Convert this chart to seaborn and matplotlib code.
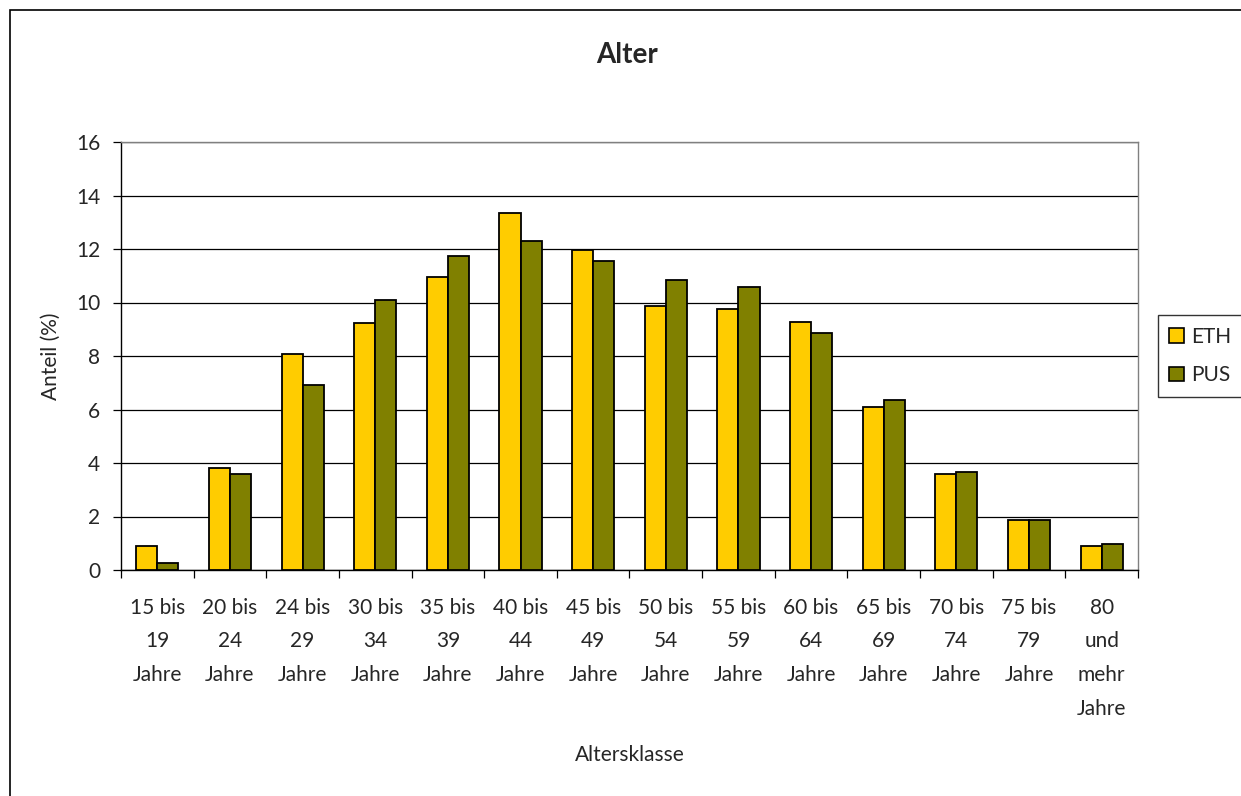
import matplotlib
matplotlib.use("Agg")
import matplotlib.pyplot as plt
import seaborn as sns
import pandas as pd
from matplotlib.patches import Rectangle, Patch

# Age classes and shares (%) for both groups
categories = [
    "15 bis\n19\nJahre", "20 bis\n24\nJahre", "24 bis\n29\nJahre", "30 bis\n34\nJahre",
    "35 bis\n39\nJahre", "40 bis\n44\nJahre", "45 bis\n49\nJahre", "50 bis\n54\nJahre",
    "55 bis\n59\nJahre", "60 bis\n64\nJahre", "65 bis\n69\nJahre", "70 bis\n74\nJahre",
    "75 bis\n79\nJahre", "80\nund\nmehr\nJahre",
]
eth = [0.88, 3.80, 8.07, 9.25, 10.97, 13.33, 11.95, 9.87, 9.74, 9.26, 6.08, 3.59, 1.86, 0.88]
pus = [0.26, 3.59, 6.90, 10.08, 11.74, 12.29, 11.54, 10.84, 10.57, 8.85, 6.36, 3.65, 1.86, 0.97]
series = ["ETH", "PUS"]
colors = {"ETH": "#FFCC00", "PUS": "#808000"}
yticks = [0, 2, 4, 6, 8, 10, 12, 14, 16]

df = pd.DataFrame({
    "Altersklasse": categories * 2,
    "Anteil": eth + pus,
    "Gruppe": ["ETH"] * len(categories) + ["PUS"] * len(categories),
})

sns.set_theme(style="white")
plt.rcParams["font.family"] = ["Lato", "DejaVu Sans"]
FS = 15

W, H = 1241, 796
fig = plt.figure(figsize=(W / 100, H / 100), dpi=100)
ax = fig.add_axes([121 / W, 1 - 570 / H, (1138 - 121) / W, (570 - 142) / H])

# outer chart border
fig.patches.append(Rectangle((10 / W, -0.01), 1.02 - 10 / W, 1 - 10 / H + 0.01,
                             transform=fig.transFigure, fill=False,
                             edgecolor="black", linewidth=1.2, zorder=0))

sns.barplot(data=df, x="Altersklasse", y="Anteil", hue="Gruppe", hue_order=series,
            palette=colors, width=0.58, edgecolor="black", linewidth=1.3,
            saturation=1, legend=False, ax=ax, zorder=3)

ax.set_ylim(0, 16)
ax.set_xlim(-0.5, len(categories) - 0.5)
ax.set_yticks(yticks)
ax.set_yticklabels([str(v) for v in yticks], fontsize=FS)
ax.yaxis.grid(True, color="black", linewidth=0.9)
ax.set_axisbelow(True)

# category boundary ticks on x axis
ax.set_xticks([i - 0.5 for i in range(len(categories) + 1)], minor=False)
ax.set_xticklabels([])
ax.set_xticks(range(len(categories)), minor=True)
ax.set_xticklabels(categories, minor=True, fontsize=FS, linespacing=1.85, va="top")
ax.tick_params(axis="x", which="major", direction="out", length=6, width=0.9,
               color="black", bottom=True)
ax.tick_params(axis="x", which="minor", length=0, pad=20)
ax.tick_params(axis="y", direction="out", length=6, width=0.9, color="black",
               left=True, pad=9)

for side in ["top", "right"]:
    ax.spines[side].set_color("#808080")
    ax.spines[side].set_linewidth(1.0)
for side in ["left", "bottom"]:
    ax.spines[side].set_color("black")
    ax.spines[side].set_linewidth(1.0)

ax.set_xlabel("Altersklasse", fontsize=FS)
ax.set_ylabel("Anteil (%)", fontsize=FS)
ax.xaxis.set_label_coords(0.5, (570 - 745) / (570 - 142))
ax.yaxis.set_label_coords((61 - 121) / (1138 - 121), 0.5)

fig.text(627 / W, 1 - 55 / H, "Alter", fontsize=20, fontweight="bold",
         ha="center", va="center")

handles = [Patch(facecolor=colors[s], edgecolor="black", linewidth=1.2, label=s) for s in series]
leg = fig.legend(handles=handles, loc="center left",
                 bbox_to_anchor=(1158 / W, 1 - 356 / H), frameon=True,
                 fontsize=FS, handlelength=0.7, handleheight=0.7,
                 handletextpad=0.35, labelspacing=0.9, borderpad=0.55,
                 borderaxespad=0, fancybox=False, edgecolor="black")
leg.get_frame().set_linewidth(1.0)

fig.savefig("out.png", dpi=100, facecolor="white")
